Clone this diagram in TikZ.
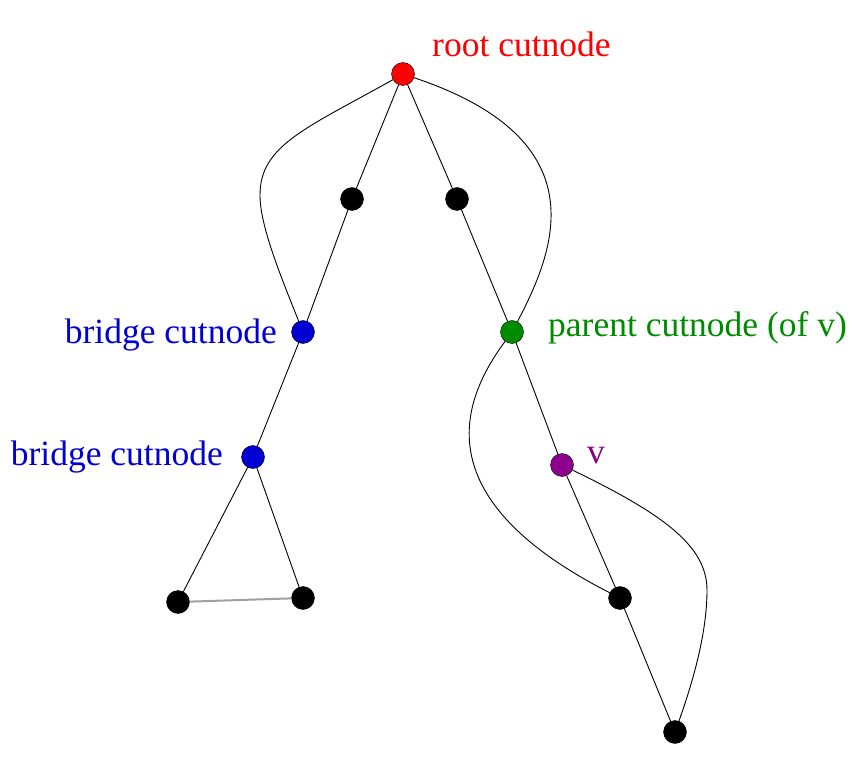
\documentclass[tikz,border=0pt]{standalone}
\usepackage{fontspec}
\setmainfont{Liberation Serif}
\definecolor{rootred}{RGB}{255,0,0}
\definecolor{bridgeblue}{RGB}{0,0,210}
\definecolor{parentgreen}{RGB}{0,140,0}
\definecolor{vpurple}{RGB}{140,0,140}
\begin{document}
\begin{tikzpicture}[x=1pt,y=-1pt,
		vertex/.style={circle,draw=black,fill=black,minimum size=23pt,inner sep=0pt},
		label/.style={inner sep=0pt,font=\fontsize{35.5}{42}\selectfont},
		edge/.style={draw=black,line width=0.9pt}]
			\useasboundingbox (0,0) rectangle (855,757);
			
			% Draw the vertices
			\node[vertex,fill=rootred] (root) at (403,74) {};
			\node[vertex] (a) at (352,199) {};
			\node[vertex] (b) at (457,199) {};
			\node[vertex,fill=bridgeblue] (bridgeA) at (303,332) {};
			\node[vertex,fill=parentgreen] (parent) at (512,332) {};
			\node[vertex,fill=bridgeblue] (bridgeB) at (253,457) {};
			\node[vertex,fill=vpurple] (v) at (562,465) {};
			\node[vertex] (c) at (178,602) {};
			\node[vertex] (d) at (303,598) {};
			\node[vertex] (e) at (620,598) {};
			\node[vertex] (f) at (675,732) {};
			
			% Turning points of two curved edges
			\coordinate (leftbend) at (260,195);
			\coordinate (vbend) at (707,590);
			
			% Draw the labels next to the vertices
			\node[label,anchor=base west,text=rootred] (rootlabel) at (432,57) {root cutnode};
			\node[label,anchor=base east,text=bridgeblue] (bridgeAlabel) at (277,343) {bridge cutnode};
			\node[label,anchor=base east,text=bridgeblue] (bridgeBlabel) at (223,465) {bridge cutnode};
			\node[label,anchor=base west,text=parentgreen] (parentlabel) at (548,336) {parent cutnode (of v)};
			\node[label,anchor=base west,text=vpurple] (vlabel) at (587,463) {v};
			
			% Draw the straight edges
			\draw[edge] (root) -- (a);
			\draw[edge] (a) -- (bridgeA);
			\draw[edge] (root) -- (b);
			\draw[edge] (b) -- (parent);
			\draw[edge] (bridgeA) -- (bridgeB);
			\draw[edge] (bridgeB) -- (c);
			\draw[edge] (bridgeB) -- (d);
			\draw[draw=gray!75,line width=2pt] (c) -- (d);
			\draw[edge] (parent) -- (v);
			\draw[edge] (v) -- (e);
			\draw[edge] (e) -- (f);
			
			% Draw the curved edges
			\draw[edge] (root) .. controls (307,128) and (260,145) .. (leftbend)
				.. controls (260,225) and (279,272) .. (bridgeA);
			\draw[edge] (root) .. controls (600,140) and (555,250) .. (parent);
			\draw[edge] (parent) .. controls (458,405) and (428,500) .. (e);
			\draw[edge] (v) .. controls (661,513) and (707,545) .. (vbend)
				.. controls (707,630) and (695,676) .. (f);
		\end{tikzpicture}
\end{document}
